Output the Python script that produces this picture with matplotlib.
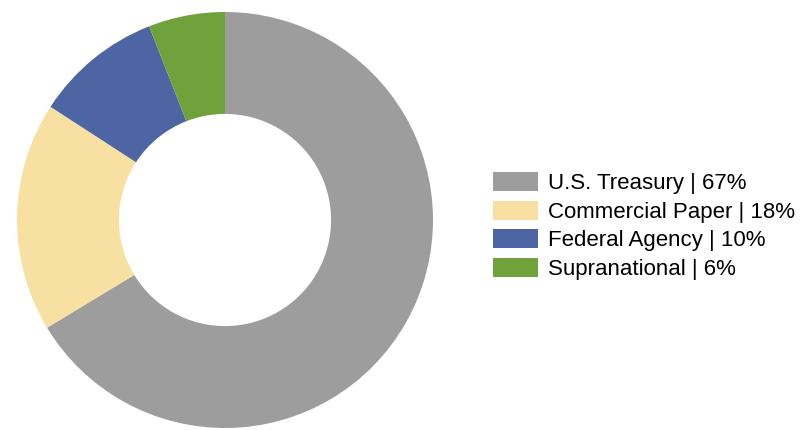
import matplotlib.pyplot as plt

plt.rcParams['font.family'] = ['Liberation Sans', 'DejaVu Sans']

# Portfolio allocation by sector
sectors = ["U.S. Treasury", "Commercial Paper", "Federal Agency", "Supranational"]
shares = [67, 18, 10, 6]
colors = ["#9D9D9D", "#F8E0A3", "#4D66A3", "#70A23B"]

fig = plt.figure(figsize=(8.01, 4.30), dpi=100)
ax = fig.add_axes([17 / 801, 2 / 430, 416 / 801, 416 / 430])

wedges, _ = ax.pie(shares, colors=colors, startangle=90, counterclock=False,
                   radius=1.0, wedgeprops=dict(width=0.49, linewidth=0))
ax.set_xlim(-1, 1)
ax.set_ylim(-1, 1)
ax.set_aspect("equal")
ax.axis("off")

labels = [f"{s} | {v}%" for s, v in zip(sectors, shares)]
fig.legend(wedges, labels, loc="center left", bbox_to_anchor=(484 / 801, 1 - 226 / 430),
           frameon=False, fontsize=16, handlelength=2.03, handleheight=0.95,
           labelspacing=0.28, handletextpad=0.45, borderaxespad=0)

fig.savefig("out.png", dpi=100)
